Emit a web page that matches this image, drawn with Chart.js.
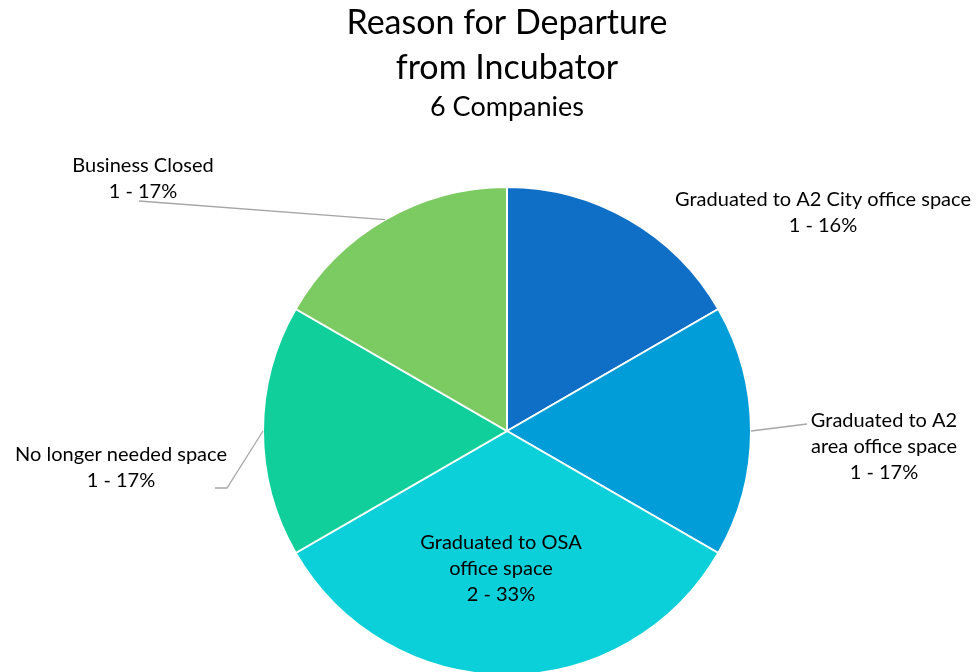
<!DOCTYPE html>
<html>
<head>
<meta charset="utf-8">
<script src="https://cdn.jsdelivr.net/npm/chart.js@4"></script>
<style>
  html, body { margin: 0; padding: 0; background: #fff; overflow: hidden; }
  canvas { display: block; }
</style>
</head>
<body>
<canvas id="pieChart" width="978" height="680"></canvas>
<script>
const categories = ['Graduated to A2 City office space', 'Graduated to A2 area office space', 'Graduated to OSA office space', 'No longer needed space', 'Business Closed'];
const counts = [1, 1, 2, 1, 1];
const percentLabels = ['16%', '17%', '33%', '17%', '17%'];
const sliceColors = ['#0F6FC6', '#009DD9', '#0BD0D9', '#10CF9B', '#7CCA62'];

const FONT = 'Lato, "Open Sans", sans-serif';

// how each label is split in lines, where it sits, and its leader line (if any)
const labelLayout = [
    { lines: ['Graduated to A2 City office space'], x: 823, y: 200, leader: null },
    { lines: ['Graduated to A2', 'area office space'], x: 884, y: 421, leader: [[807, 424]] },
    { lines: ['Graduated to OSA', 'office space'], x: 501, y: 543, leader: null },
    { lines: ['No longer needed space'], x: 121, y: 455, leader: [[227, 488], [215, 488]] },
    { lines: ['Business Closed'], x: 143, y: 166, leader: [[139, 201]] }
];

const textPlugin = {
    id: 'textPlugin',
    afterDraw(chart) {
        const ctx = chart.ctx;
        ctx.save();
        ctx.fillStyle = '#000';
        ctx.textAlign = 'center';
        ctx.textBaseline = 'middle';
        ctx.font = '34px ' + FONT;
        ctx.fillText('Reason for Departure', 507, 23);
        ctx.fillText('from Incubator', 507, 68);
        ctx.font = '27px ' + FONT;
        ctx.fillText('6 Companies', 507, 107);

        const meta = chart.getDatasetMeta(0);
        meta.data.forEach((arc, i) => {
            const lay = labelLayout[i];
            if (lay.leader) {
                const mid = (arc.startAngle + arc.endAngle) / 2;
                ctx.strokeStyle = '#A6A6A6';
                ctx.lineWidth = 1.3;
                ctx.beginPath();
                ctx.moveTo(arc.x + Math.cos(mid) * arc.outerRadius, arc.y + Math.sin(mid) * arc.outerRadius);
                lay.leader.forEach(p => ctx.lineTo(p[0], p[1]));
                ctx.stroke();
            }
            const lines = lay.lines.concat([counts[i] + ' - ' + percentLabels[i]]);
            ctx.font = '20px ' + FONT;
            ctx.fillStyle = '#000';
            lines.forEach((t, k) => ctx.fillText(t, lay.x, lay.y + k * 26));
        });
        ctx.restore();
    }
};

new Chart(document.getElementById('pieChart').getContext('2d'), {
    type: 'pie',
    data: {
        labels: categories,
        datasets: [{
            data: counts,
            backgroundColor: sliceColors,
            borderColor: '#fff',
            borderWidth: 2
        }]
    },
    options: {
        responsive: false,
        animation: false,
        layout: { padding: { top: 186, bottom: 4, left: 262, right: 226 } },
        plugins: {
            legend: { display: false },
            tooltip: { enabled: false }
        }
    },
    plugins: [textPlugin]
});
</script>
</body>
</html>
